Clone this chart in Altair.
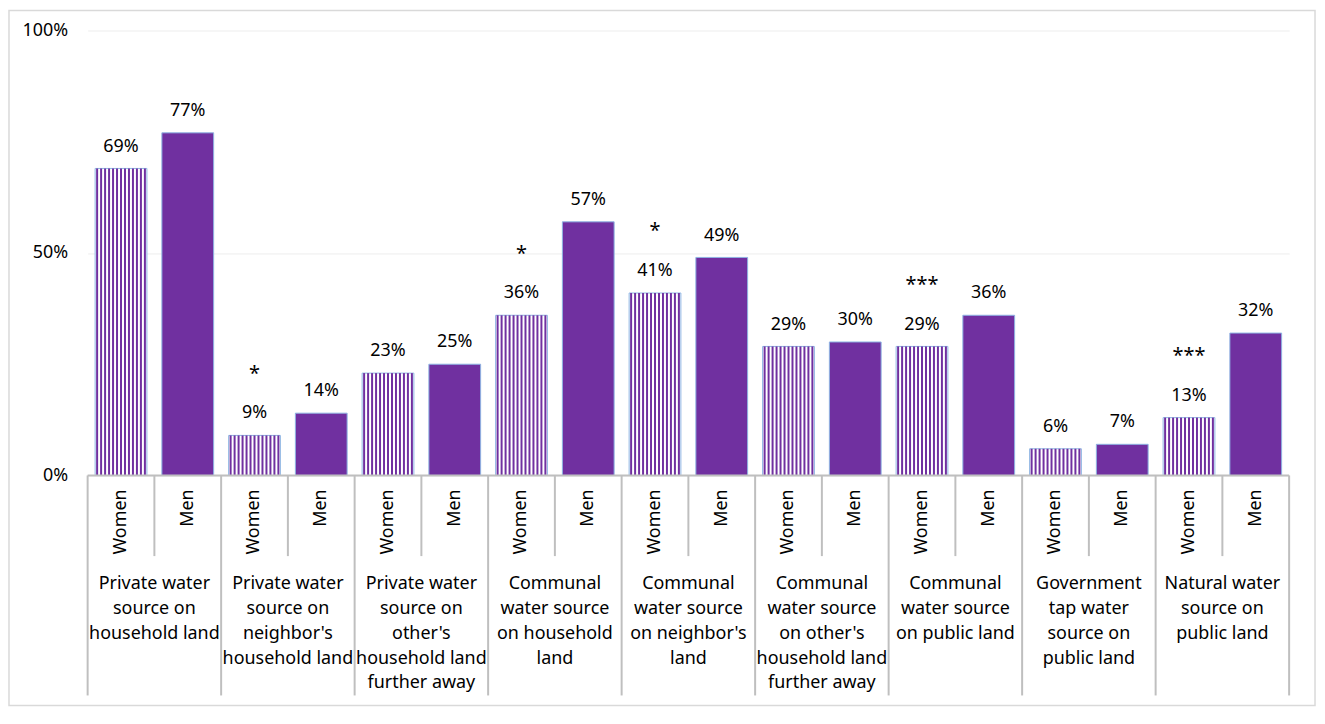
import altair as alt
import pandas as pd

groups = [
    ["Private water", "source on", "household land"],
    ["Private water", "source on", "neighbor's", "household land"],
    ["Private water", "source on", "other's", "household land", "further away"],
    ["Communal", "water source", "on household", "land"],
    ["Communal", "water source", "on neighbor's", "land"],
    ["Communal", "water source", "on other's", "household land", "further away"],
    ["Communal", "water source", "on public land"],
    ["Government", "tap water", "source on", "public land"],
    ["Natural water", "source on", "public land"],
]
women = [69, 9, 23, 36, 41, 29, 29, 6, 13]
men = [77, 14, 25, 57, 49, 30, 36, 7, 32]
women_sig = ["", "*", "", "*", "*", "", "***", "", "***"]
genders = ["Women", "Men"]
y_ticks = [0, 0.5, 1.0]

PURPLE = "#7030A0"
EDGE = "#8EB4E3"
LINE = "#BFBFBF"
FONT = "Noto Sans"
FS = 18
W, H = 1207, 447
N_BARS = len(groups) * 2
UNIT = W / N_BARS  # pixels per bar slot

rows = []
for gi in range(len(groups)):
    for si, (gen, vals) in enumerate(zip(genders, [women, men])):
        rows.append({
            "gender": gen,
            "pos": gi * 2 + si + 0.5,
            "value": vals[gi] / 100,
            "zero": 0.0,
            "label": f"{vals[gi]}%",
            "sig": women_sig[gi] if gen == "Women" else "",
        })
df = pd.DataFrame(rows)

# hatch texture for the women bars (13 vertical stripes per bar)
stripe_px = [-24 + 4 * k for k in range(13)]
srows = []
for r in rows:
    if r["gender"] == "Women":
        for s in stripe_px:
            srows.append({"sx": r["pos"] + s / UNIT, "value": r["value"], "zero": 0.0})
sdf = pd.DataFrame(srows)

group_values = [{"group": g, "center": i * 2 + 1} for i, g in enumerate(groups)]
bounds = pd.DataFrame({"b": list(range(N_BARS + 1))})
bounds["kind"] = ["long" if b % 2 == 0 else "short" for b in bounds["b"]]
axis_df = pd.DataFrame({"x0": [0], "x1": [N_BARS], "y": [0]})

# outer frame of the figure (decoration), expressed in scale units
frame_df = pd.DataFrame({
    "fx0": [-79 / UNIT], "fx1": [1233 / UNIT],
    "fy0": [1 + 20 / H], "fy1": [-(678 - H) / H],
})

xs = alt.Scale(domain=[0, N_BARS], nice=False, zero=False, padding=0)
ys = alt.Scale(domain=[0, 1], nice=False, padding=0)

base = alt.Chart(df)

frame = alt.Chart(frame_df).mark_rect(fillOpacity=0, stroke="#D9D9D9", strokeWidth=1.5).encode(
    x=alt.X("fx0:Q", scale=xs, axis=None), x2=alt.X2("fx1"),
    y=alt.Y("fy0:Q", scale=ys), y2=alt.Y2("fy1"),
)

grid = base.mark_bar(opacity=0, orient="vertical").encode(
    x=alt.X("pos:Q", scale=xs, axis=None),
    y=alt.Y("value:Q", scale=ys, stack=None, axis=alt.Axis(
        values=y_ticks, format=".0%", title=None, domain=False, ticks=False,
        grid=True, gridColor="#EDEDED", gridWidth=1, labelPadding=20,
        labelFontSize=FS, labelFont=FONT, labelColor="#000000")),
)

women_bars = base.transform_filter(alt.datum.gender == "Women").mark_bar(
    size=52, fill="white", stroke=EDGE, strokeWidth=1, orient="vertical"
).encode(
    x=alt.X("pos:Q", scale=xs, axis=None),
    y=alt.Y("value:Q", scale=ys, stack=None),
)
stripes = alt.Chart(sdf).mark_rule(color=PURPLE, strokeWidth=2).encode(
    x=alt.X("sx:Q", scale=xs, axis=None),
    y=alt.Y("value:Q", scale=ys),
    y2=alt.Y2("zero"),
)
men_bars = base.transform_filter(alt.datum.gender == "Men").mark_bar(
    size=52, fill=PURPLE, stroke=EDGE, strokeWidth=1, orient="vertical"
).encode(
    x=alt.X("pos:Q", scale=xs, axis=None),
    y=alt.Y("value:Q", scale=ys, stack=None),
)

val_labels = base.mark_text(dy=-22, baseline="middle", fontSize=FS, font=FONT, color="#000").encode(
    x=alt.X("pos:Q", scale=xs, axis=None), y=alt.Y("value:Q", scale=ys), text="label:N"
)
sig_labels = base.mark_text(dy=-62, baseline="middle", fontSize=20, font=FONT, color="#000").encode(
    x=alt.X("pos:Q", scale=xs, axis=None), y=alt.Y("value:Q", scale=ys), text="sig:N"
)

axis_line = alt.Chart(axis_df).mark_rule(color=LINE, strokeWidth=2).encode(
    x=alt.X("x0:Q", scale=xs, axis=None), x2=alt.X2("x1"), y=alt.Y("y:Q", scale=ys)
)
short_div = alt.Chart(bounds).transform_filter(alt.datum.kind == "short").mark_rule(
    color=LINE, strokeWidth=2).encode(
    x=alt.X("b:Q", scale=xs, axis=None), y=alt.value(H), y2=alt.value(H + 81)
)
long_div = alt.Chart(bounds).transform_filter(alt.datum.kind == "long").mark_rule(
    color=LINE, strokeWidth=2).encode(
    x=alt.X("b:Q", scale=xs, axis=None), y=alt.value(H), y2=alt.value(H + 221)
)

gender_labels = base.mark_text(angle=270, align="right", baseline="middle", fontSize=FS,
                               font=FONT, color="#000").encode(
    x=alt.X("pos:Q", scale=xs, axis=None), y=alt.value(H + 14), text="gender:N"
)
group_labels = alt.Chart(alt.Data(values=group_values)).mark_text(
    align="center", baseline="top", fontSize=FS, font=FONT, color="#000", lineHeight=25
).encode(
    x=alt.X("center:Q", scale=xs, axis=None), y=alt.value(H + 100), text="group:N"
)

chart = alt.layer(
    frame, grid, women_bars, stripes, men_bars, axis_line, val_labels, sig_labels,
    short_div, long_div, gender_labels, group_labels
).properties(
    width=W, height=H,
    autosize=alt.AutoSizeParams(type="none"),
    padding={"left": 80, "top": 21, "right": 28, "bottom": 232},
    background="white",
).configure_view(stroke=None)

chart.save("out.html", embed_options={"renderer": "svg", "actions": False})
